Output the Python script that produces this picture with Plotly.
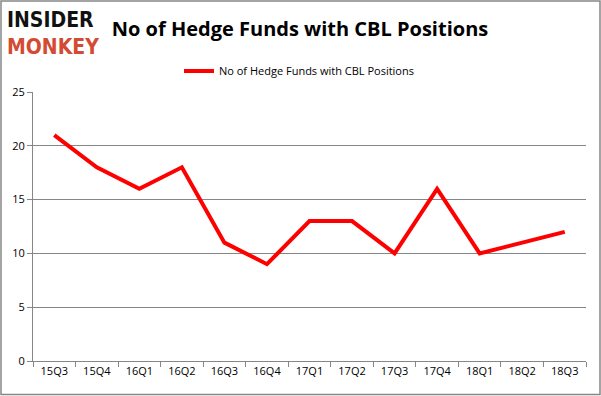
import plotly.graph_objects as go

quarters = ["15Q3", "15Q4", "16Q1", "16Q2", "16Q3", "16Q4", "17Q1", "17Q2",
            "17Q3", "17Q4", "18Q1", "18Q2", "18Q3"]
hedge_funds = [21, 18, 16, 18, 11, 9, 13, 13, 10, 16, 10, 11, 12]
series_name = "No of Hedge Funds with CBL Positions"
y_ticks = [0, 5, 10, 15, 20, 25]

W, H = 601, 396
ml, mr, mt, mb = 33, 15, 92, 35
pw, ph = W - ml - mr, H - mt - mb

fig = go.Figure()
fig.add_trace(go.Scatter(
    x=quarters, y=hedge_funds, mode="lines", name=series_name,
    line=dict(color="#ff0000", width=4),
))

fig.update_layout(
    width=W, height=H,
    margin=dict(l=ml, r=mr, t=mt, b=mb),
    paper_bgcolor="white", plot_bgcolor="white",
    font=dict(family="Open Sans, Liberation Sans, sans-serif", color="#000000", size=11),
    showlegend=True,
    legend=dict(orientation="h", x=(299 - ml) / pw, xanchor="center",
                y=1 + (mt - 71) / ph, yanchor="middle",
                font=dict(size=11, color="#000"), itemwidth=30),
    title=dict(text="<b>No of Hedge Funds with CBL Positions</b>", x=300 / W, xanchor="center",
               y=1 - 29 / H, yanchor="middle",
               font=dict(size=20, family="Open Sans, Liberation Sans, sans-serif", color="#000")),
    xaxis=dict(type="category", tickson="boundaries", ticks="outside", ticklen=5,
               range=[-0.5, len(quarters) - 0.5],
               tickcolor="#868686", showline=True, linecolor="#868686", linewidth=1,
               showgrid=False, tickfont=dict(size=11), fixedrange=True),
    yaxis=dict(range=[0, 25], tickvals=y_ticks, ticks="outside", ticklen=5,
               tickcolor="#868686", showline=True, linecolor="#868686", linewidth=1,
               showgrid=True, gridcolor="#868686", gridwidth=1, zeroline=False,
               tickfont=dict(size=11)),
)

# outer border
fig.add_shape(type="rect", xref="paper", yref="paper",
              x0=(-ml + 1) / pw, x1=(pw + mr - 1) / pw,
              y0=(-mb + 1.5) / ph, y1=(ph + mt - 1) / ph,
              line=dict(color="#868686", width=1.5), layer="above")

# logo
fig.add_annotation(text="<b>INSIDER</b>", xref="paper", yref="paper",
                   x=(5 - ml) / pw, xanchor="left", y=1 + (mt - 20) / ph, yanchor="middle",
                   showarrow=False,
                   font=dict(family="DejaVu Sans Condensed, DejaVu Sans", size=21, color="#111111"))
fig.add_annotation(text="<b>MONKEY</b>", xref="paper", yref="paper",
                   x=(5 - ml) / pw, xanchor="left", y=1 + (mt - 47) / ph, yanchor="middle",
                   showarrow=False,
                   font=dict(family="DejaVu Sans Condensed, DejaVu Sans", size=21, color="#d24b32"))

fig.write_html("out.html", config={"displayModeBar": False},
               post_script="document.body.style.margin='0';document.body.style.overflow='hidden';")
